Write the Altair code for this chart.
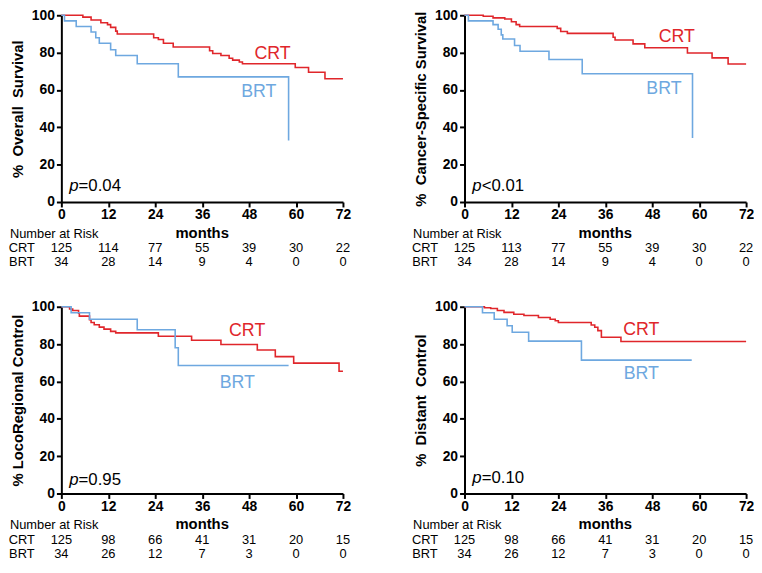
import altair as alt
import pandas as pd

# ---------------- data ----------------
MONTHS = [0, 12, 24, 36, 48, 60, 72]
Y_TICKS = [0, 20, 40, 60, 80, 100]

# Overall survival
os_crt_t = [0, 5.5, 7.6, 10.1, 11.8, 12.6, 13.9, 14.3, 23.6, 24.8, 26.1, 28.6, 37.9, 38.7, 40.8, 42.9, 43.8, 45.5, 46.3, 59.8, 63.2, 67.4, 72]
os_crt_s = [100, 99, 97.5, 96, 95, 93.5, 91.5, 90, 88, 87, 85, 83, 81, 79.5, 78.5, 77, 76, 75, 74, 72, 69.5, 66, 66]
os_brt_t = [0, 0.8, 3.8, 7.6, 8.8, 9.7, 12.6, 13.9, 19.4, 29.9, 58.1]
os_brt_s = [100, 97, 94, 91, 88, 85, 81.5, 78.5, 74, 67, 33]

# Cancer-specific survival
css_crt_t = [0, 4.8, 7.3, 10.3, 12.0, 13.2, 14.1, 23.7, 24.6, 26.3, 38.0, 38.5, 43.1, 46.1, 57.0, 63.3, 67.4, 72]
css_crt_s = [100, 99.5, 98.6, 98, 96.5, 95, 94, 93, 91.3, 90.3, 88.2, 86.8, 84.7, 82.6, 79.8, 77.2, 73.9, 73.9]
css_brt_t = [0, 1.0, 7.3, 8.6, 9.4, 9.8, 12.8, 14.2, 21.6, 30.1, 58.3]
css_brt_s = [100, 97, 95, 92.5, 89.5, 87.3, 83.8, 80.7, 76.3, 68.7, 34.3]

# Locoregional control
lrc_crt_t = [0, 2.1, 2.9, 4.4, 4.6, 7.2, 7.6, 8.4, 9.7, 10.9, 12.6, 13.9, 24.8, 33.3, 40.8, 50.1, 54.7, 59.4, 71, 72]
lrc_crt_s = [100, 98.8, 98, 96.5, 95, 93, 91.6, 90.4, 89.1, 88, 86.8, 86, 84.2, 82.1, 79.8, 76.8, 73.3, 69.8, 65.5, 65.5]
lrc_brt_t = [0, 2.5, 7.2, 19.4, 29.1, 29.9, 58.1]
lrc_brt_s = [100, 96.8, 93.3, 87.7, 78, 68.5, 68.5]

# Distant control
dc_crt_t = [0, 5.1, 6.7, 8.4, 10.1, 12.6, 15.2, 18.9, 21.9, 23.2, 24.0, 32.4, 33.3, 34.1, 35.0, 40.0, 72]
dc_crt_s = [100, 99.5, 99.1, 98, 97, 96, 95.3, 94.2, 93.3, 92.5, 91.6, 90.2, 89, 87.2, 83.7, 81.4, 81.4]
dc_brt_t = [0, 4.6, 7.6, 10.9, 12.2, 16.4, 29.9, 58.1]
dc_brt_s = [100, 96.8, 93.3, 89.8, 86.3, 81.6, 71.4, 71.4]

# Numbers at risk
os_risk_crt = [125, 114, 77, 55, 39, 30, 22]
os_risk_brt = [34, 28, 14, 9, 4, 0, 0]
css_risk_crt = [125, 113, 77, 55, 39, 30, 22]
css_risk_brt = [34, 28, 14, 9, 4, 0, 0]
lrc_risk_crt = [125, 98, 66, 41, 31, 20, 15]
lrc_risk_brt = [34, 26, 12, 7, 3, 0, 0]
dc_risk_crt = [125, 98, 66, 41, 31, 20, 15]
dc_risk_brt = [34, 26, 12, 7, 3, 0, 0]

# ---------------- styling ----------------
RED = "#e0262b"
BLUE = "#6ea8e0"
FONT = "Liberation Sans"
W, H = 285, 189
NBSP = "\u00a0"
ROW_NAR, ROW_MONTHS, ROW_CRT, ROW_BRT = H + 32, H + 31, H + 47, H + 61


def curve_df(crt_t, crt_s, brt_t, brt_s):
    rows = []
    for arm, ts, ss in (("CRT", crt_t, crt_s), ("BRT", brt_t, brt_s)):
        for i, (t, s) in enumerate(zip(ts, ss)):
            rows.append({"arm": arm, "t": t, "s": s, "i": i})
    return pd.DataFrame(rows)


def panel(curves, ytitle, pv_text, pv_y, crt_pos, brt_pos, risk_crt, risk_brt):
    xs = alt.Scale(domain=[0, 72], nice=False, zero=False)
    ys = alt.Scale(domain=[0, 100], nice=False)
    common = dict(grid=False, labelFont=FONT, labelFontSize=14, labelFontWeight="bold",
                  labelColor="black", domainColor="black", domainWidth=2,
                  tickColor="black", tickWidth=2, tickSize=5, labelFlush=False)
    xaxis = alt.Axis(values=MONTHS, title=None, labelPadding=1, **common)
    yaxis = alt.Axis(values=Y_TICKS, title=ytitle, titleFont=FONT, titleFontSize=15,
                     titleFontWeight="bold", titleColor="black", titlePadding=6,
                     labelPadding=2, **common)

    def X(**kw):
        return alt.X(scale=xs, axis=xaxis, **kw)

    def Y(**kw):
        return alt.Y(scale=ys, axis=yaxis, **kw)

    lines = alt.Chart(curves).mark_line(interpolate="step-after", strokeWidth=1.6).encode(
        x=X(field="t", type="quantitative"),
        y=Y(field="s", type="quantitative"),
        color=alt.Color("arm:N", scale=alt.Scale(domain=["CRT", "BRT"], range=[RED, BLUE]), legend=None),
        order=alt.Order("i:Q"),
    )
    one = pd.DataFrame({"k": [0]})
    lab_crt = alt.Chart(one).mark_text(text="CRT", fontSize=18, font=FONT, color=RED,
                                       align="center", baseline="middle").encode(
        x=X(datum=crt_pos[0]), y=Y(datum=crt_pos[1]))
    lab_brt = alt.Chart(one).mark_text(text="BRT", fontSize=18, font=FONT, color=BLUE,
                                       align="center", baseline="middle").encode(
        x=X(datum=brt_pos[0]), y=Y(datum=brt_pos[1]))
    p_it = alt.Chart(one).mark_text(text="p", fontSize=17, font=FONT, fontStyle="italic",
                                    color="black", align="left", baseline="middle").encode(
        x=X(datum=2), y=Y(datum=pv_y))
    p_rest = alt.Chart(one).mark_text(text=pv_text, fontSize=17, font=FONT, color="black",
                                      align="left", baseline="middle", dx=9.5).encode(
        x=X(datum=2), y=Y(datum=pv_y))

    risk = pd.DataFrame({"m": MONTHS, "crt": risk_crt, "brt": risk_brt})
    r_crt = alt.Chart(risk).mark_text(fontSize=13, font=FONT, color="black",
                                      align="center", baseline="middle").encode(
        x=X(field="m", type="quantitative"), y=alt.value(ROW_CRT), text="crt:Q")
    r_brt = alt.Chart(risk).mark_text(fontSize=13, font=FONT, color="black",
                                      align="center", baseline="middle").encode(
        x=X(field="m", type="quantitative"), y=alt.value(ROW_BRT), text="brt:Q")
    nar = alt.Chart(one).mark_text(text="Number at Risk", fontSize=13, font=FONT, color="black",
                                   align="left", baseline="middle").encode(
        x=alt.value(-52), y=alt.value(ROW_NAR))
    rl_crt = alt.Chart(one).mark_text(text="CRT", fontSize=13, font=FONT, color="black",
                                      align="center", baseline="middle").encode(
        x=alt.value(-40), y=alt.value(ROW_CRT))
    rl_brt = alt.Chart(one).mark_text(text="BRT", fontSize=13, font=FONT, color="black",
                                      align="center", baseline="middle").encode(
        x=alt.value(-40), y=alt.value(ROW_BRT))
    months = alt.Chart(one).mark_text(text="months", fontSize=15, font=FONT, fontWeight="bold",
                                      color="black", align="center", baseline="middle").encode(
        x=X(datum=36), y=alt.value(ROW_MONTHS))

    return alt.layer(lines, lab_crt, lab_brt, p_it, p_rest, r_crt, r_brt, nar, rl_crt, rl_brt,
                     months).properties(width=W, height=H)


p1 = panel(curve_df(os_crt_t, os_crt_s, os_brt_t, os_brt_s),
           "%" + NBSP + " Overall" + NBSP + " Survival", "=0.04", 8.4,
           (54, 79), (50.5, 59), os_risk_crt, os_risk_brt)
p2 = panel(curve_df(css_crt_t, css_crt_s, css_brt_t, css_brt_s),
           "%" + NBSP + " Cancer-Specific Survival", "<0.01", 8.3,
           (54.3, 88.5), (51, 60.4), css_risk_crt, css_risk_brt)
p3 = panel(curve_df(lrc_crt_t, lrc_crt_s, lrc_brt_t, lrc_brt_s),
           "% LocoRegional Control", "=0.95", 7.4,
           (47.5, 87), (45, 59), lrc_risk_crt, lrc_risk_brt)
p4 = panel(curve_df(dc_crt_t, dc_crt_s, dc_brt_t, dc_brt_s),
           "%" + NBSP + " Distant" + NBSP + " Control", "=0.10", 8.4,
           (45.2, 87.4), (45.2, 64), dc_risk_crt, dc_risk_brt)

chart = alt.concat(p1, p2, p3, p4, columns=2,
                   spacing={"row": 106, "column": 123}, bounds="flush").properties(
    padding={"left": 0, "right": 0, "top": -3, "bottom": 0}
).configure_view(stroke=None).configure_text(font=FONT)

chart.save("out.html", embed_options={"renderer": "svg", "actions": False})
